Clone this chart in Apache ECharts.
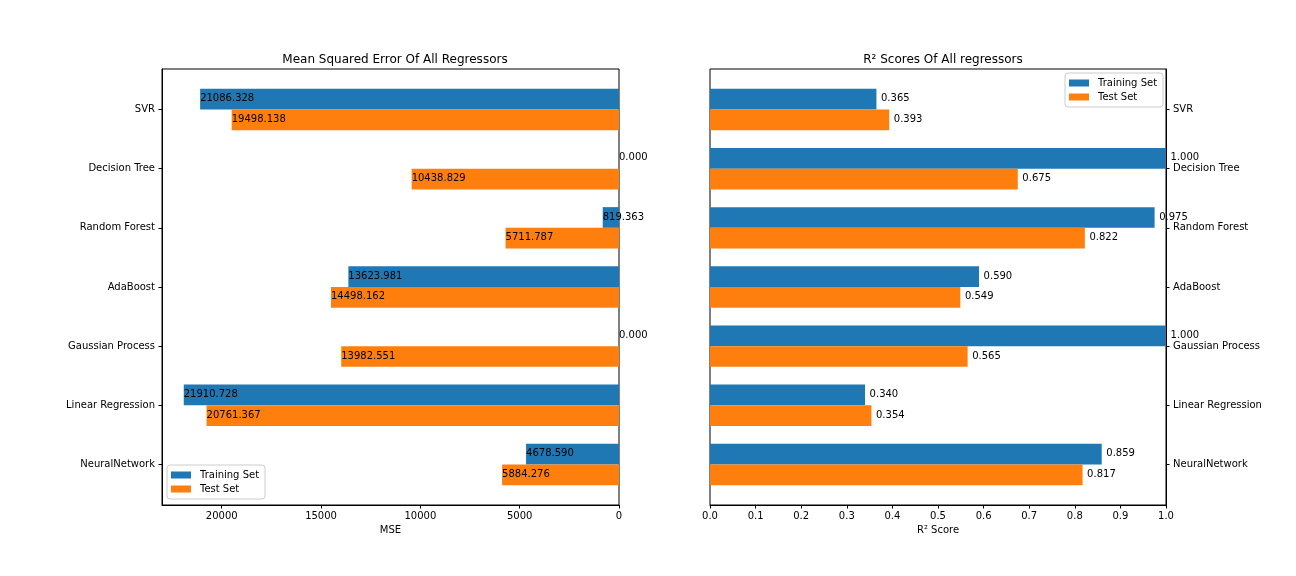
<!DOCTYPE html>
<html><head><meta charset="utf-8">
<script src="https://cdn.jsdelivr.net/npm/echarts@6/dist/echarts.min.js"></script>
<style>html,body{margin:0;padding:0;background:#fff}#c{width:1296px;height:576px}</style>
</head><body><div id="c"></div>
<script>
const categories = ['SVR','Decision Tree','Random Forest','AdaBoost','Gaussian Process','Linear Regression','NeuralNetwork'];
const mseTrain = [21086.328, 0.000, 819.363, 13623.981, 0.000, 21910.728, 4678.590];
const mseTest  = [19498.138, 10438.829, 5711.787, 14498.162, 13982.551, 20761.367, 5884.276];
const r2Train  = [0.365, 1.000, 0.975, 0.590, 1.000, 0.340, 0.859];
const r2Test   = [0.393, 0.675, 0.822, 0.549, 0.565, 0.354, 0.817];
const mseTicks = [0, 5000, 10000, 15000, 20000];
const r2Ticks  = [0, 0.1, 0.2, 0.3, 0.4, 0.5, 0.6, 0.7, 0.8, 0.9, 1.0];

const BLUE = '#1f77b4', ORANGE = '#ff7f0e';
const FONT = '"DejaVu Sans", sans-serif';
const catIdx = categories.map((_, i) => i);
const H = 0.35;

function makeRender(off, color, isMse) {
  return function (params, api) {
    const v = api.value(0), i = api.value(1);
    const yc = i + off;
    const a = api.coord([0, yc - H / 2]);
    const b = api.coord([v, yc + H / 2]);
    const x0 = Math.min(a[0], b[0]), y0 = Math.min(a[1], b[1]);
    const w = Math.abs(b[0] - a[0]), h = Math.abs(b[1] - a[1]);
    const c = api.coord([isMse ? v : v + 0.01, yc]);
    return {
      type: 'group',
      children: [
        { type: 'rect', shape: { x: x0, y: y0, width: w, height: h }, style: { fill: color } },
        { type: 'text', z2: 10, style: { text: v.toFixed(3), x: c[0], y: c[1] - 0.5, align: 'left', verticalAlign: 'middle', fill: '#000', font: '10px ' + FONT } }
      ]
    };
  };
}

function mkSeries(name, vals, off, color, isMse, ai) {
  return {
    type: 'custom', name: name, xAxisIndex: ai, yAxisIndex: ai, clip: false,
    itemStyle: { color: color },
    encode: { x: 0, y: 1 },
    data: vals.map((v, i) => [v, i]),
    renderItem: makeRender(off, color, isMse)
  };
}

const axisLine = { show: true, onZero: false, lineStyle: { color: '#000', width: 1 } };
const tickStyle = { color: '#000', width: 1 };
const legendCommon = {
  orient: 'vertical', data: ['Training Set', 'Test Set'], selectedMode: false,
  itemWidth: 20, itemHeight: 7, itemGap: 4, padding: [5, 6, 5, 4], icon: 'rect',
  borderColor: '#ccc', borderWidth: 1, borderRadius: 3, backgroundColor: 'rgba(255,255,255,0.8)',
  textStyle: { fontSize: 10, color: '#000', fontFamily: FONT, padding: [0, 0, 0, 4] }
};

const option = {
  animation: false,
  backgroundColor: '#fff',
  textStyle: { fontFamily: FONT },
  title: [
    { text: 'Mean Squared Error Of All Regressors', left: 390, top: 49, textAlign: 'center',
      textStyle: { fontSize: 12, fontWeight: 'normal', color: '#000', fontFamily: FONT } },
    { text: 'R² Scores Of All regressors', left: 938, top: 49, textAlign: 'center',
      textStyle: { fontSize: 12, fontWeight: 'normal', color: '#000', fontFamily: FONT } }
  ],
  legend: [
    Object.assign({ left: 167, top: 465 }, legendCommon),
    Object.assign({ left: 1065, top: 73 }, legendCommon)
  ],
  grid: [
    { left: 162, top: 69, width: 457, height: 436, show: true, borderColor: '#000', borderWidth: 1, backgroundColor: 'transparent' },
    { left: 710, top: 69, width: 456, height: 436, show: true, borderColor: '#000', borderWidth: 1, backgroundColor: 'transparent' }
  ],
  xAxis: [
    {
      gridIndex: 0, type: 'value', min: 0, max: 23006.3, inverse: true, position: 'bottom',
      axisLine: axisLine, splitLine: { show: false },
      name: 'MSE', nameLocation: 'middle', nameGap: 18, nameTextStyle: { fontSize: 10, color: '#000', fontFamily: FONT },
      axisTick: { show: true, length: 3.5, lineStyle: tickStyle, customValues: mseTicks },
      axisLabel: { fontSize: 10, color: '#000', margin: 6, fontFamily: FONT, customValues: mseTicks, formatter: v => String(v) }
    },
    {
      gridIndex: 1, type: 'value', min: 0, max: 1, position: 'bottom',
      axisLine: axisLine, splitLine: { show: false },
      name: 'R² Score', nameLocation: 'middle', nameGap: 18, nameTextStyle: { fontSize: 10, color: '#000', fontFamily: FONT },
      axisTick: { show: true, length: 3.5, lineStyle: tickStyle, customValues: r2Ticks },
      axisLabel: { fontSize: 10, color: '#000', margin: 6, fontFamily: FONT, customValues: r2Ticks, formatter: v => v.toFixed(1) }
    }
  ],
  yAxis: [
    {
      gridIndex: 0, type: 'value', min: -0.685, max: 6.685, inverse: true, position: 'left',
      axisLine: axisLine, splitLine: { show: false },
      axisTick: { show: true, length: 3.5, lineStyle: tickStyle, customValues: catIdx },
      axisLabel: { fontSize: 10, color: '#000', margin: 7, fontFamily: FONT, customValues: catIdx, formatter: v => categories[Math.round(v)] }
    },
    {
      gridIndex: 1, type: 'value', min: -0.685, max: 6.685, inverse: true, position: 'right',
      axisLine: axisLine, splitLine: { show: false },
      axisTick: { show: true, length: 3.5, lineStyle: tickStyle, customValues: catIdx },
      axisLabel: { fontSize: 10, color: '#000', margin: 7, fontFamily: FONT, customValues: catIdx, formatter: v => categories[Math.round(v)] }
    }
  ],
  series: [
    mkSeries('Training Set', mseTrain, -H / 2, BLUE, true, 0),
    mkSeries('Test Set', mseTest, H / 2, ORANGE, true, 0),
    mkSeries('Training Set', r2Train, -H / 2, BLUE, false, 1),
    mkSeries('Test Set', r2Test, H / 2, ORANGE, false, 1)
  ]
};
const chart = echarts.init(document.getElementById('c'), null, { renderer: 'canvas' });
chart.setOption(option);
</script></body></html>
